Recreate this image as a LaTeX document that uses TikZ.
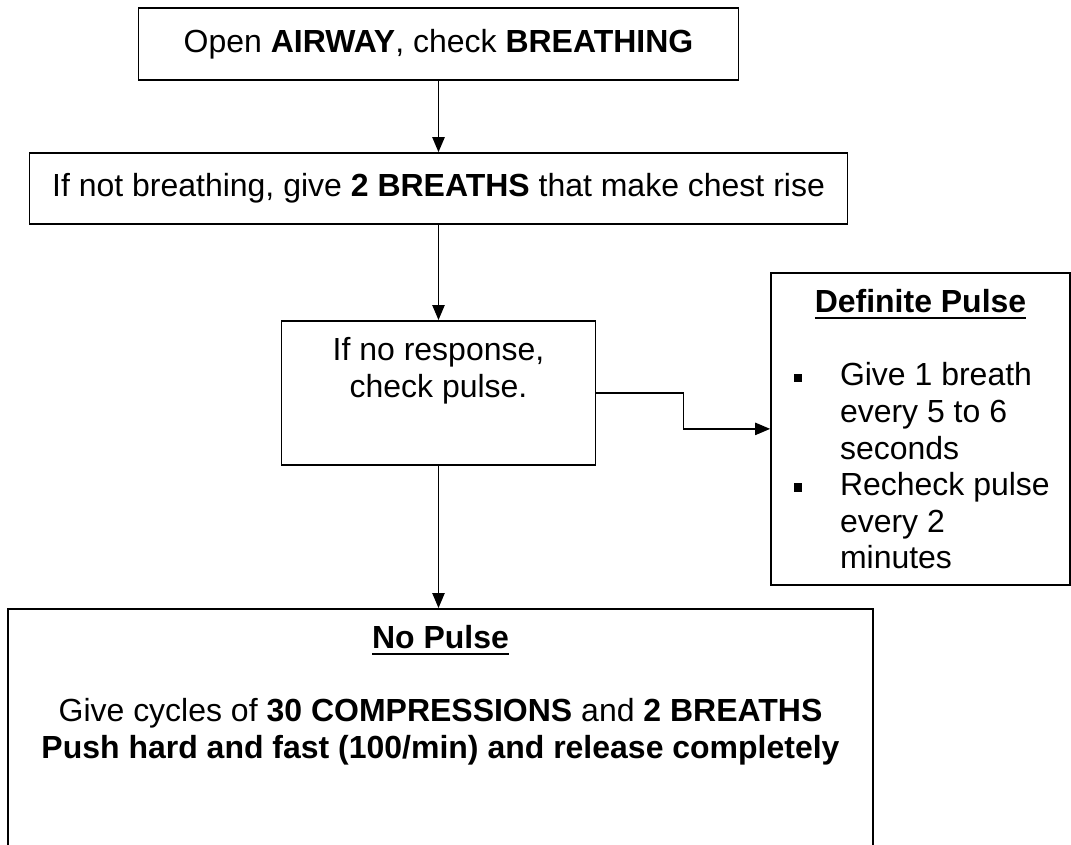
\documentclass[tikz,border=0pt]{standalone}
\usepackage{fontspec}
\setmainfont{Liberation Sans}
\usetikzlibrary{arrows.meta,calc}
\newcommand{\ulinetext}[1]{\setbox0\hbox{#1}\rlap{\vrule width\wd0 height -2.4pt depth 3.6pt}\box0}
\newcommand{\sqbullet}[1]{\mbox{\makebox[0.92cm][l]{\rule[2.3pt]{4.8pt}{4.8pt}}#1}}
\newcommand{\bulline}[1]{\mbox{\hspace*{0.92cm}#1}}

\begin{document}
\begin{tikzpicture}[
	font=\fontsize{18.2}{20.8}\selectfont,
	box/.style={draw,line width=1pt,inner sep=0pt},
	topbox/.style={box,anchor=north,align=flush center,inner xsep=0.2cm,inner ysep=0.3cm,text height=0.5cm},
	arr/.style={line width=0.8pt,-{Triangle[length=8.5pt,width=7pt]}}]
	\useasboundingbox (0,0) rectangle (21.42,-16.88);
	\clip (0,0) rectangle (21.42,-16.88);
	
	\node[box,minimum width=12cm,minimum height=1.44cm] (airway) at (8.77,-0.88) {Open \textbf{AIRWAY}, check \textbf{BREATHING}};
	\node[box,minimum width=16.36cm,minimum height=1.42cm] (breaths) at (8.77,-3.77) {If not breathing, give \textbf{2 BREATHS} that make chest rise};
	\node[topbox,text width=5.88cm,text depth=1.78cm] (check) at (8.77,-6.40) {If no response,\\check pulse.};
	\node[topbox,align=flush left,inner xsep=0.46cm,text width=5.06cm,text depth=5.14cm] (definite) at (18.41,-5.44) {%
		{\centering\ulinetext{\textbf{Definite Pulse}}\par}\vspace{\baselineskip}
		\sqbullet{Give 1 breath}\\\bulline{every 5 to 6}\\\bulline{seconds}\\
		\sqbullet{Recheck pulse}\\\bulline{every 2}\\\bulline{minutes}};
	\node[topbox,text width=16.9cm,text depth=4.9cm] (nopulse) at (8.81,-12.16) {%
		\ulinetext{\textbf{No Pulse}}\\[\baselineskip]
		Give cycles of \textbf{30 COMPRESSIONS} and \textbf{2 BREATHS}\\
		\textbf{Push hard and fast (100/min) and release completely}};
	
	\draw[arr] (airway) -- (breaths);
	\draw[arr] (breaths) -- (check);
	\draw[arr] (check) -- (check |- nopulse.north);
	\coordinate (bend) at ($(check.east)!0.5!(definite.west)$);
	\draw[arr] (check.east) -| (bend) |- (definite.west);
\end{tikzpicture}
\end{document}
